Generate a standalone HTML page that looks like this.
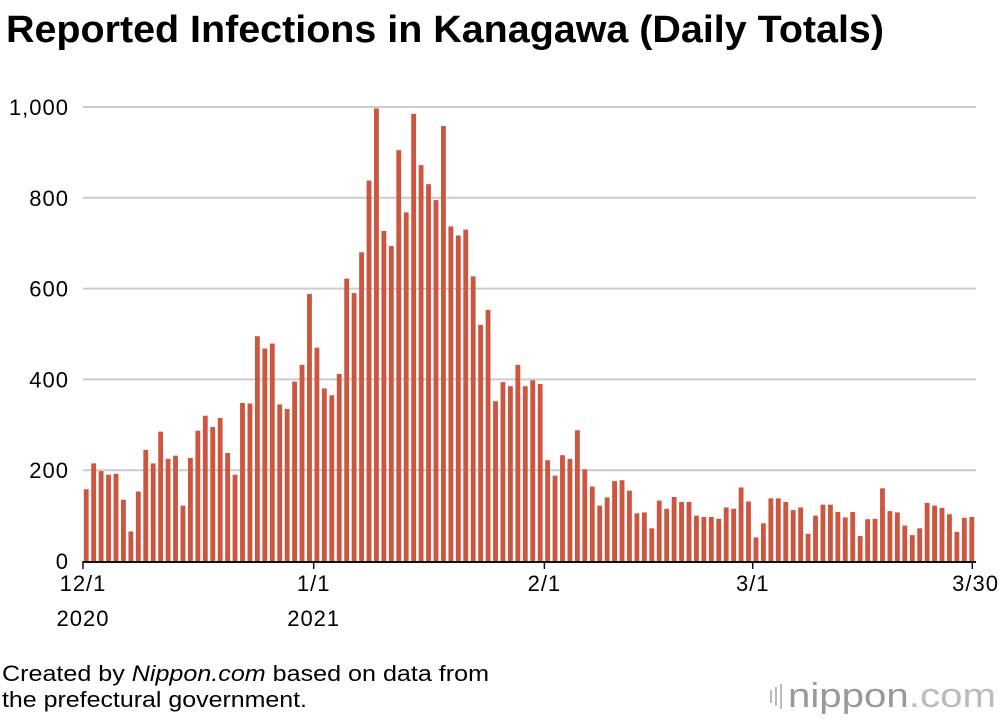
<!DOCTYPE html>
<html><head><meta charset="utf-8"><style>
body{margin:0;background:#fff;font-family:"Liberation Sans",sans-serif;}
#wrap{position:relative;width:1000px;height:720px;overflow:hidden}
</style></head><body>
<div id="wrap">
<svg width="1000" height="720" id="svg">
<text x="6" y="42" font-size="38" font-weight="bold" fill="#000" textLength="878" lengthAdjust="spacingAndGlyphs">Reported Infections in Kanagawa (Daily Totals)</text>
<g id="grid"></g>
<g id="bars"></g>
<g id="axes"></g>
<text x="2" y="681" font-size="22" fill="#000" textLength="487" lengthAdjust="spacingAndGlyphs">Created by <tspan font-style="italic">Nippon.com</tspan> based on data from</text>
<text x="2" y="707" font-size="22" fill="#000" textLength="305" lengthAdjust="spacingAndGlyphs">the prefectural government.</text>
<g>
<rect x="770" y="690" width="2" height="13" fill="#bbb"/><rect x="775" y="687" width="2" height="19" fill="#bbb"/><rect x="780" y="684" width="2" height="25" fill="#bbb"/>
<text x="788" y="707" font-size="34" fill="#999" textLength="208" lengthAdjust="spacingAndGlyphs">nippon<tspan fill="#bbb">.com</tspan></text>
</g>
</svg></div>
<script>
const dec=[158,215,198,190,192,135,65,153,245,215,285,225,232,122,227,287,320,295,315,238,190,348,347,495,468,479,345,335,395,432,588];
const jan=[470,380,365,412,622,590,680,838,997,727,694,905,768,985,872,830,795,958,737,717,730,627,520,553,352,394,385,432,385,398,390];
const feb=[222,188,233,225,288,202,164,122,140,176,178,155,105,107,72,133,115,141,130,130,100,97,97,93,118,115,162,131];
const mar=[52,83,138,138,130,112,118,60,100,124,124,108,96,108,55,92,93,160,110,107,78,57,72,128,122,117,103,64,95,97];
const values=dec.concat(jan,feb,mar);
const yTicks=[0,200,400,600,800,1000];
const yTickLabels=["0","200","400","600","800","1,000"];
const xTickIdx=[0,31,62,90,119];
const xTickLabels=["12/1","1/1","2/1","3/1","3/30"];
const yearLabels=[["2020",0],["2021",31]];
const NS="http://www.w3.org/2000/svg";
const x0=83,x1=976,y0=561,y1=107;
const step=(x1-x0)/values.length;
const X=i=>x0+i*step;
const Y=v=>y0-(v/1000)*(y0-y1);
function mk(tag,attrs,parent){const e=document.createElementNS(NS,tag);for(const k in attrs)e.setAttribute(k,attrs[k]);parent.appendChild(e);return e;}
const grid=document.getElementById('grid'),bars=document.getElementById('bars'),axes=document.getElementById('axes');
yTicks.forEach((t,i)=>{
  if(t>0){const l=mk('line',{x1:83,x2:976,y1:Y(t),y2:Y(t),stroke:'#ccc','stroke-width':2},grid);
  
  }
  const tx=mk('text',{x:69,y:Y(t)+8,'font-size':22,'letter-spacing':1,'text-anchor':'end',fill:'#000'},axes);
  tx.textContent=yTickLabels[i];
  
  
});
values.forEach((v,i)=>{
  const r=mk('rect',{x:X(i)+0.8,y:Y(v),width:step-2.6,height:y0-Y(v),fill:'#cd5640'},bars);
  
  
});
const base=mk('line',{x1:83,x2:976,y1:y0+1,y2:y0+1,stroke:'#111','stroke-width':2},axes);


xTickIdx.forEach((idx,i)=>{
  const cx=i===4?X(idx)+step/2:X(idx);
  const tk=mk('line',{x1:cx,x2:cx,y1:y0,y2:y0+8,stroke:'#111','stroke-width':1.5},axes);
  
  
  const tx=mk('text',{x:i===4?999:cx,y:591,'font-size':22,'letter-spacing':1,'text-anchor':i===4?'end':'middle',fill:'#000'},axes);
  tx.textContent=xTickLabels[i];
  
  
});
yearLabels.forEach(([lab,idx])=>{
  const tx=mk('text',{x:X(idx),y:626,'font-size':22,'letter-spacing':1,'text-anchor':'middle',fill:'#000'},axes);
  tx.textContent=lab;
  
  
});
</script>
</body></html>
